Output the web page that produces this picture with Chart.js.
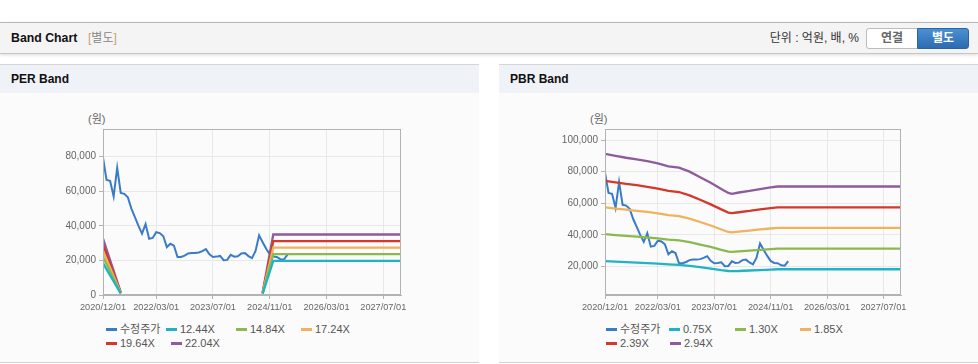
<!DOCTYPE html>
<html>
<head>
<meta charset="utf-8">
<script src="https://cdn.jsdelivr.net/npm/chart.js@4.4.1/dist/chart.umd.min.js"></script>
<style>
  body { margin: 0; width: 978px; height: 364px; position: relative; overflow: hidden; background: #fff;
         font-family: "Liberation Sans", "Noto Sans CJK KR", sans-serif; }
  .topbar { position: absolute; left: 0; top: 22px; width: 978px; height: 30px; background: #f4f4f4;
            border-top: 1px solid #b8b8b8; border-bottom: 1px solid #c6c6c6; box-shadow: 0 1px 3px rgba(0,0,0,.15); }
  .topbar .title { position: absolute; left: 11px; top: 0; line-height: 30px; font-size: 12.3px; font-weight: bold; color: #111; }
  .topbar .sub { position: absolute; left: 88px; top: 0; line-height: 30px; font-size: 12px; color: #888; }
  .topbar .sub b { font-weight: normal; color: #c9a06a; }
  .topbar .unit { position: absolute; right: 119px; top: 0; line-height: 30px; font-size: 12px; color: #333; }
  .btn { position: absolute; top: 5px; height: 19px; width: 50px; font-size: 12px; font-weight: bold; text-align: center; line-height: 19px; }
  .btn.off { left: 866px; background: #fff; color: #666; border: 1px solid #bdbdbd; border-radius: 3px 0 0 3px; }
  .btn.on { left: 917px; background: linear-gradient(#4b8fd3, #2c6cb0); color: #fff; border: 1px solid #2a64a3; border-radius: 0 3px 3px 0; }
  .panel { position: absolute; top: 64px; width: 479px; height: 297px; background: #fbfbfb;
           border-top: 1px solid #d6d6d6; border-bottom: 1px solid #d2d2d2; }
  .phead { height: 28px; background: #eff2f7; font-size: 12px; font-weight: bold; line-height: 28px; padding-left: 11px; color: #111; }
  .unitlbl { position: absolute; top: 110px; font-size: 11px; color: #666; }
  .box { position: absolute; top: 120px; width: 350px; height: 195px; }
  .legend { position: absolute; top: 323px; width: 270px; display: flex; flex-wrap: wrap; font-size: 11px; color: #555; }
  .legend div { height: 13.5px; line-height: 13.5px; display: flex; align-items: center; white-space: nowrap; }
  .legend i { display: inline-block; width: 11px; height: 3px; margin-right: 3px; }
</style>
</head>
<body>
<div class="topbar">
  <div class="title">Band Chart</div>
  <div class="sub"><b>[</b>별도<b>]</b></div>
  <div class="unit">단위 : 억원, 배, %</div>
  <div class="btn off">연결</div>
  <div class="btn on">별도</div>
</div>
<div class="panel" style="left:0"><div class="phead">PER Band</div></div>
<div class="panel" style="left:499px"><div class="phead">PBR Band</div></div>

<div class="unitlbl" style="left:88px">(원)</div>
<div class="unitlbl" style="left:590px">(원)</div>
<div class="box" style="left:60px"><canvas id="perChart"></canvas></div>
<div class="box" style="left:560px"><canvas id="pbrChart"></canvas></div>
<div class="legend" id="perLegend" style="left:106px"></div>
<div class="legend" id="pbrLegend" style="left:606px"></div>

<script>
// x axis: month offset from 2020/12
const xTickPos = [0, 15, 31, 47, 63, 79];
const xTickLabels = ['2020/12/01', '2022/03/01', '2023/07/01', '2024/11/01', '2026/03/01', '2027/07/01'];
const xMax = 84;

// 수정주가, monthly from 2020/12
const price = [79400, 66500, 66000, 57000, 73500, 59000, 58500, 56500, 50000, 45000,
  40000, 35500, 41000, 32500, 33000, 36300, 35800, 34000, 27700, 29600,
  28500, 22000, 22000, 22800, 24000, 24300, 24300, 24600, 25400, 26500,
  23500, 22000, 22200, 22600, 20100, 20300, 23200, 22200, 22400, 24000,
  24300, 22500, 21300, 25500, 34500, 30500, 26800, 23500, 22200, 22000,
  20700, 20500, 23300];

// PER band
const perX = [0, 5, 6, 45, 48, 84];
const per1244 = [18400, 850, null, 730, 19700, 19700];
const per1484 = [22000, 1000, null, 870, 23600, 23600];
const per1724 = [25500, 1150, null, 1000, 27400, 27400];
const per1964 = [29000, 1300, null, 1150, 31200, 31200];
const per2204 = [32600, 1500, null, 1300, 35000, 35000];
const perLabels = ['12.44X', '14.84X', '17.24X', '19.64X', '22.04X'];
const perYTicks = [0, 20000, 40000, 60000, 80000];

// PBR band
const pbrX = [0, 3, 6, 9, 12, 15, 18, 21, 24, 27, 30, 33, 35, 36, 38, 41, 44, 47, 49, 84];
const pbr075 = [23300, 23000, 22700, 22400, 22100, 21700, 21300, 21000, 20400, 19500, 18600, 17600, 17100, 17000, 17100, 17400, 17700, 18000, 18200, 18200];
const pbr130 = [40400, 39800, 39300, 38800, 38300, 37700, 36900, 36500, 35400, 33800, 32300, 30500, 29400, 29200, 29500, 30000, 30500, 31000, 31200, 31200];
const pbr185 = [57400, 56600, 55900, 55200, 54500, 53600, 52500, 51900, 50300, 48100, 45900, 43400, 41800, 41500, 42000, 42700, 43400, 44000, 44400, 44400];
const pbr239 = [74200, 73200, 72200, 71400, 70400, 69300, 67800, 67100, 65000, 62200, 59300, 56100, 54100, 53700, 54300, 55100, 56100, 56900, 57400, 57400];
const pbr294 = [91300, 90000, 88800, 87800, 86600, 85200, 83400, 82500, 80000, 76500, 73000, 69000, 66500, 66000, 66800, 67800, 69000, 70000, 70600, 70600];
const pbrLabels = ['0.75X', '1.30X', '1.85X', '2.39X', '2.94X'];
const pbrYTicks = [20000, 40000, 60000, 80000, 100000];

const priceColor = '#3a7bc8';
const bandColors = ['#1fb3c6', '#8cb94d', '#f0b25c', '#d3382b', '#8e5b9b'];

const toPoints = (xs, ys) => xs.map((x, i) => ({ x: x, y: ys[i] }));

// plot frame on all four sides
const frame = {
  id: 'frame',
  afterDatasetsDraw(chart) {
    const { ctx, chartArea: a } = chart;
    ctx.save();
    ctx.strokeStyle = '#b3b3b3';
    ctx.lineWidth = 1;
    ctx.strokeRect(Math.round(a.left) + 0.5, Math.round(a.top) + 0.5,
      Math.round(a.right - a.left) - 1, Math.round(a.bottom - a.top) - 1);
    ctx.restore();
  }
};

function makeChart(id, bandX, bands, yMin, yMax, yTicks, yWidth) {
  const datasets = bands.map((b, i) => ({
    data: toPoints(bandX, b),
    borderColor: bandColors[i],
    borderWidth: 2.3
  }));
  datasets.push({
    data: price.map((v, i) => ({ x: i, y: v })),
    borderColor: priceColor,
    borderWidth: 2
  });

  return new Chart(document.getElementById(id), {
    type: 'line',
    data: { datasets: datasets },
    options: {
      responsive: true,
      maintainAspectRatio: false,
      animation: false,
      layout: { padding: { top: 8, right: 9, bottom: 0, left: 0 } },
      elements: { point: { radius: 0 }, line: { tension: 0 } },
      plugins: { legend: { display: false }, tooltip: { enabled: false } },
      scales: {
        x: {
          type: 'linear',
          min: 0,
          max: xMax,
          afterBuildTicks: s => { s.ticks = xTickPos.map(v => ({ value: v })); },
          afterFit: s => { s.height = 20; },
          grid: { color: '#e8e8e8', tickColor: '#b3b3b3', tickLength: 4 },
          border: { color: '#b3b3b3' },
          ticks: {
            maxRotation: 0, minRotation: 0, padding: 3, color: '#666',
            font: { family: 'Liberation Sans', size: 9.2 },
            callback: v => xTickLabels[xTickPos.indexOf(v)]
          }
        },
        y: {
          min: yMin,
          max: yMax,
          afterBuildTicks: s => { s.ticks = yTicks.map(v => ({ value: v })); },
          afterFit: s => { s.width = yWidth; },
          grid: { color: '#e8e8e8', tickColor: '#b3b3b3', tickLength: 4 },
          border: { color: '#b3b3b3' },
          ticks: {
            padding: 3, color: '#666',
            font: { family: 'Liberation Sans', size: 10 },
            callback: v => v.toLocaleString('en-US')
          }
        }
      }
    },
    plugins: [frame]
  });
}

function makeLegend(id, labels, widths) {
  const el = document.getElementById(id);
  const names = ['수정주가'].concat(labels);
  const colors = [priceColor].concat(bandColors);
  names.forEach((n, i) => {
    const d = document.createElement('div');
    d.style.width = widths[i] + 'px';
    d.innerHTML = '<i style="background:' + colors[i] + '"></i>' + n;
    el.appendChild(d);
  });
}

makeChart('perChart', perX, [per1244, per1484, per1724, per1964, per2204], 0, 96000, perYTicks, 43);
makeChart('pbrChart', pbrX, [pbr075, pbr130, pbr185, pbr239, pbr294], 1900, 107000, pbrYTicks, 45);
makeLegend('perLegend', perLabels, [60, 70, 65, 65, 65, 65]);
makeLegend('pbrLegend', pbrLabels, [63, 66, 65, 65, 64, 65]);
</script>
</body>
</html>
